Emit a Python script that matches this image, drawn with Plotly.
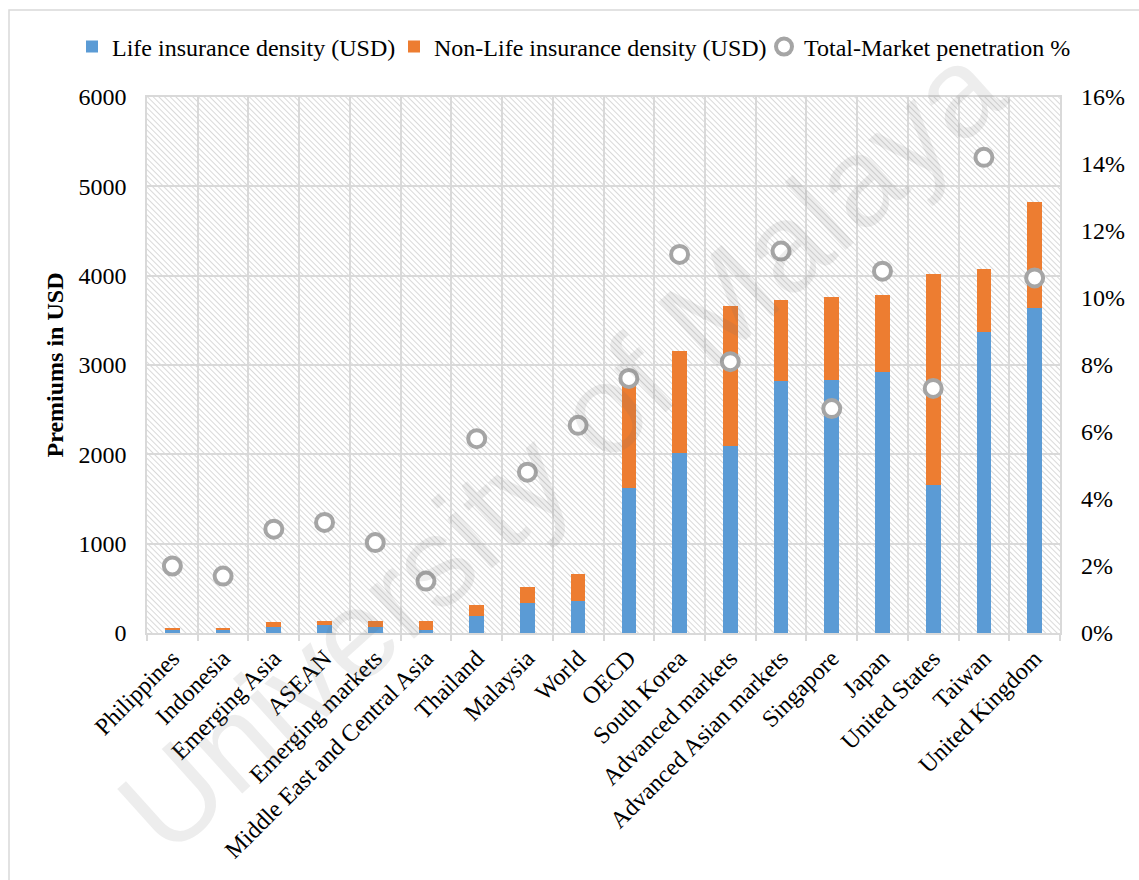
import base64
import plotly.graph_objects as go

# Insurance density by market (USD per capita) and total market penetration (% of GDP)
markets = [
    "Philippines", "Indonesia", "Emerging Asia", "ASEAN", "Emerging markets",
    "Middle East and Central Asia", "Thailand", "Malaysia", "World", "OECD",
    "South Korea", "Advanced markets", "Advanced Asian markets", "Singapore",
    "Japan", "United States", "Taiwan", "United Kingdom",
]
life_density = [37, 33, 71, 86, 64, 30, 194, 333, 363, 1623,
                2015, 2090, 2826, 2837, 2923, 1656, 3372, 3634]
nonlife_density = [23, 25, 49, 45, 67, 108, 124, 186, 299, 1214,
                   1147, 1574, 905, 920, 856, 2359, 699, 1188]
penetration_pct = [2.0, 1.7, 3.1, 3.3, 2.7, 1.55, 5.8, 4.8, 6.2, 7.6,
                   11.3, 8.1, 11.4, 6.7, 10.8, 7.3, 14.2, 10.6]

left_ticks = [0, 1000, 2000, 3000, 4000, 5000, 6000]
right_ticks = [0, 2, 4, 6, 8, 10, 12, 14, 16]

W, H = 1139, 880
M_L, M_R, M_T, M_B = 147, 79, 97, 247
PW, PH = W - M_L - M_R, H - M_T - M_B

BLUE = "#5B9BD5"
ORANGE = "#ED7D31"
GRID = "#D9D9D9"
SERIF = "Liberation Serif, Times New Roman, serif"
FS = 24

# diagonal hatching for the plot background
svg = f"""<svg xmlns='http://www.w3.org/2000/svg' width='{PW}' height='{PH}' viewBox='0 0 {PW} {PH}' preserveAspectRatio='none'>
<defs><pattern id='h' width='4' height='4' patternUnits='userSpaceOnUse' patternTransform='rotate(-45)'>
<line x1='0' y1='0' x2='0' y2='4' stroke='#CFCFCF' stroke-width='1.6'/></pattern></defs>
<rect width='100%' height='100%' fill='url(#h)'/></svg>"""
hatch_src = "data:image/svg+xml;base64," + base64.b64encode(svg.encode()).decode()

fig = go.Figure()
fig.add_trace(go.Bar(
    x=markets, y=life_density, name="Life insurance density (USD)",
    marker=dict(color=BLUE, line=dict(width=0)), width=0.29,
    legend="legend", showlegend=True,
))
fig.add_trace(go.Bar(
    x=markets, y=nonlife_density, name="Non-Life insurance density (USD)",
    marker=dict(color=ORANGE, line=dict(width=0)), width=0.29,
    legend="legend2", showlegend=True,
))
fig.add_trace(go.Scatter(
    x=markets, y=penetration_pct, name="Total-Market penetration %",
    mode="markers", yaxis="y2", legend="legend3", showlegend=True,
    marker=dict(symbol="circle", size=17, color="white",
                line=dict(color="#A5A5A5", width=4)),
))


def legend_box(left_px):
    return dict(
        orientation="h", xref="container", yref="container",
        x=left_px / W, xanchor="left", y=1 - 47 / H, yanchor="middle",
        font=dict(family=SERIF, size=FS), itemwidth=30,
        bgcolor="rgba(0,0,0,0)", visible=True,
    )


fig.update_layout(
    width=W, height=H,
    margin=dict(l=M_L, r=M_R, t=M_T, b=M_B, autoexpand=False),
    paper_bgcolor="white", plot_bgcolor="white",
    barmode="stack", showlegend=True,
    font=dict(family=SERIF, size=FS, color="black"),
    legend=legend_box(72),
    legend2=legend_box(394),
    legend3=legend_box(764),
    xaxis=dict(
        type="category", range=[-0.5, len(markets) - 0.5],
        tickangle=-45, tickson="boundaries",
        ticks="outside", ticklen=6, tickcolor=GRID, tickwidth=1.5,
        showgrid=True, gridcolor=GRID, gridwidth=1.5,
        showline=True, linecolor=GRID, linewidth=1.5, mirror=True,
        tickfont=dict(family=SERIF, size=FS),
    ),
    yaxis=dict(
        range=[0, 6000], tickvals=left_ticks, ticktext=[str(v) for v in left_ticks],
        showgrid=True, gridcolor=GRID, gridwidth=1.5,
        showline=True, linecolor=GRID, linewidth=1.5, mirror=True,
        zeroline=False, ticks="", ticklabelstandoff=14,
        tickfont=dict(family=SERIF, size=FS),
        title=dict(text="<b>Premiums in USD</b>", font=dict(family=SERIF, size=FS),
                   standoff=8),
    ),
    yaxis2=dict(
        range=[0, 16], overlaying="y", side="right",
        tickvals=right_ticks, ticktext=[f"{v}%" for v in right_ticks],
        showgrid=False, zeroline=False, ticks="", ticklabelstandoff=20,
        tickfont=dict(family=SERIF, size=FS),
    ),
    images=[dict(
        source=hatch_src, xref="paper", yref="paper", x=0, y=1,
        sizex=1, sizey=1, xanchor="left", yanchor="top",
        sizing="stretch", layer="below",
    )],
    shapes=[dict(
        type="rect", xref="paper", yref="paper",
        x0=(9 - M_L) / PW, x1=(W + 10 - M_L) / PW,
        y0=-(H + 10 - M_T - PH) / PH, y1=(M_T + PH - 10) / PH,
        line=dict(color=GRID, width=1.5), fillcolor="rgba(0,0,0,0)", layer="below",
    )],
    annotations=[dict(
        text="University of Malaya", xref="paper", yref="paper",
        x=(560 - M_L) / PW, y=(M_T + PH - 448) / PH,
        showarrow=False, textangle=-42,
        font=dict(family="Liberation Sans, Arial, sans-serif", size=126,
                  color="rgba(110,110,110,0.12)"),
    )],
)

fig.write_html("out.html")
